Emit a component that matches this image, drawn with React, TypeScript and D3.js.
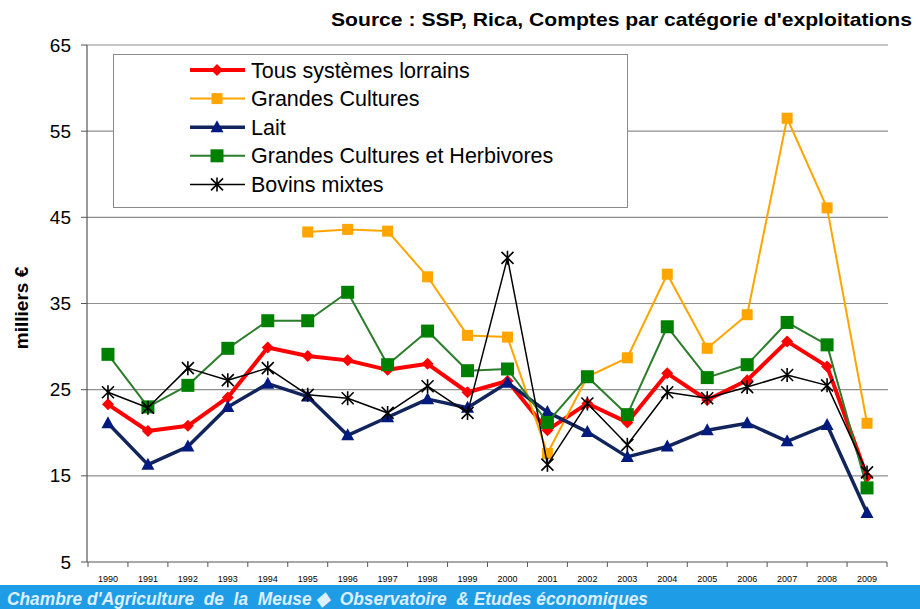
import * as d3 from "d3";
import React from "react";

const years = ["1990", "1991", "1992", "1993", "1994", "1995", "1996", "1997", "1998", "1999",
  "2000", "2001", "2002", "2003", "2004", "2005", "2006", "2007", "2008", "2009"];

const tousSystemes = [23.3, 20.2, 20.8, 24.1, 29.9, 28.9, 28.4, 27.3, 28.0, 24.7,
  26.0, 20.3, 23.4, 21.2, 26.9, 23.8, 26.1, 30.6, 27.7, 14.9];
const grandesCultures = [null, null, null, null, null, 43.3, 43.6, 43.4, 38.1, 31.3,
  31.1, 17.6, 26.5, 28.7, 38.4, 29.8, 33.7, 56.5, 46.1, 21.1];
const lait = [21.1, 16.3, 18.4, 23.0, 25.7, 24.2, 19.7, 21.8, 23.9, 22.9,
  25.8, 22.4, 20.1, 17.2, 18.4, 20.3, 21.1, 19.0, 20.9, 10.7];
const gcHerbivores = [29.1, 23.0, 25.5, 29.8, 33.0, 33.0, 36.3, 27.9, 31.8, 27.2,
  27.4, 21.2, 26.5, 22.1, 32.3, 26.4, 27.9, 32.8, 30.2, 13.6];
const bovinsMixtes = [24.7, 22.9, 27.5, 26.1, 27.5, 24.4, 24.0, 22.3, 25.4, 22.3,
  40.3, 16.3, 23.4, 18.6, 24.7, 24.0, 25.3, 26.7, 25.5, 15.4];

const yTicks = [5, 15, 25, 35, 45, 55, 65];

const series = [
  { name: "Tous systèmes lorrains", values: tousSystemes, line: "#ff0000", fill: "#ff0000", width: 4, marker: "diamond" },
  { name: "Grandes Cultures", values: grandesCultures, line: "#ffa500", fill: "#ffa500", width: 2, marker: "square" },
  { name: "Lait", values: lait, line: "#12245c", fill: "#001a80", width: 3.5, marker: "triangle" },
  { name: "Grandes Cultures et Herbivores", values: gcHerbivores, line: "#2b7d2b", fill: "#008000", width: 2, marker: "bigsquare" },
  { name: "Bovins mixtes", values: bovinsMixtes, line: "#000000", fill: "#000000", width: 1.5, marker: "star" },
];

const W = 920;
const H = 609;
const left = 88;
const right = 887;
const top = 45;
const bottom = 562;

const x = d3.scaleBand().domain(years).range([left, right]);
const y = d3.scaleLinear().domain([5, 65]).range([bottom, top]);
const cx = (yr: string) => (x(yr) as number) + x.bandwidth() / 2;

function Marker({ type, px, py, color }: { type: string; px: number; py: number; color: string }) {
  if (type === "diamond") {
    const r = 6;
    return <path d={`M${px},${py - r}L${px + r},${py}L${px},${py + r}L${px - r},${py}Z`} fill={color} />;
  }
  if (type === "square") {
    const s = 11;
    return <rect x={px - s / 2} y={py - s / 2} width={s} height={s} fill={color} />;
  }
  if (type === "bigsquare") {
    const s = 13;
    return <rect x={px - s / 2} y={py - s / 2} width={s} height={s} fill={color} />;
  }
  if (type === "triangle") {
    return <path d={`M${px},${py - 7}L${px + 6.5},${py + 5}L${px - 6.5},${py + 5}Z`} fill={color} />;
  }
  const r = 6;
  return (
    <path
      d={`M${px - r},${py - r}L${px + r},${py + r}M${px - r},${py + r}L${px + r},${py - r}M${px},${py - r - 1}L${px},${py + r + 1}`}
      stroke={color}
      strokeWidth={1.6}
      fill="none"
    />
  );
}

export default function App() {
  const line = d3
    .line<number | null>()
    .defined((d) => d != null)
    .x((_, i) => cx(years[i]))
    .y((d) => y(d as number));

  const legendY = (i: number) => 70 + i * 28.6;

  return (
    <svg
      width={W}
      height={H}
      style={{ position: "absolute", left: 0, top: 0, background: "#fff" }}
      fontFamily="'Liberation Sans', Arial, sans-serif"
    >
      <rect x={0} y={0} width={W} height={H} fill="#fff" />

      {/* source */}
      <text
        x={331}
        y={26}
        fontSize={19}
        fontWeight="bold"
        fill="#000"
        textLength={581}
        lengthAdjust="spacingAndGlyphs"
      >
        Source : SSP, Rica, Comptes par catégorie d'exploitations
      </text>

      {/* grid */}
      {yTicks.slice(1).map((t) => (
        <line key={t} x1={left - 1} x2={right + 1} y1={y(t)} y2={y(t)} stroke="#8f8f8f" strokeWidth={1.2} />
      ))}

      {/* y axis */}
      <line x1={left - 1} x2={left - 1} y1={top} y2={bottom} stroke="#555" strokeWidth={1.2} />
      {yTicks.map((t) => (
        <g key={t}>
          <line x1={left - 7} x2={left - 1} y1={y(t)} y2={y(t)} stroke="#555" />
          <text x={71} y={y(t) + 6.5} textAnchor="end" fontSize={19} fill="#000">
            {t}
          </text>
        </g>
      ))}
      <text
        transform={`translate(28, 308) rotate(-90)`}
        textAnchor="middle"
        fontSize={19}
        fontWeight="bold"
        fill="#000"
      >
        milliers €
      </text>

      {/* x axis */}
      <line x1={left - 1} x2={right} y1={bottom} y2={bottom} stroke="#555" strokeWidth={1.2} />
      {d3.range(years.length + 1).map((i) => {
        const xx = left + i * x.step();
        return <line key={i} x1={xx} x2={xx} y1={bottom} y2={bottom + 5} stroke="#555" />;
      })}
      {years.map((yr) => (
        <text key={yr} x={cx(yr)} y={582} textAnchor="middle" fontSize={9} fill="#000">
          {yr}
        </text>
      ))}

      {/* series */}
      {series.map((s) => (
        <g key={s.name}>
          <path d={line(s.values) || ""} fill="none" stroke={s.line} strokeWidth={s.width} strokeLinejoin="round" />
          {s.values.map((v, i) =>
            v == null ? null : <Marker key={i} type={s.marker} px={cx(years[i])} py={y(v)} color={s.fill} />
          )}
        </g>
      ))}

      {/* legend */}
      <rect x={113.5} y={54.5} width={514} height={153} fill="#fff" stroke="#8a8a8a" strokeWidth={1} />
      {series.map((s, i) => (
        <g key={s.name}>
          <line x1={190} x2={245} y1={legendY(i)} y2={legendY(i)} stroke={s.line} strokeWidth={s.width} />
          <Marker type={s.marker} px={217} py={legendY(i)} color={s.fill} />
          <text x={251} y={legendY(i) + 7.5} fontSize={21.5} fill="#000">
            {s.name}
          </text>
        </g>
      ))}

      {/* banner */}
      <rect x={0} y={585} width={W} height={24} fill="#1f9ce6" />
      <text
        x={7}
        y={605}
        fontSize={19}
        fontWeight="bold"
        fontStyle="italic"
        fontFamily="'Liberation Sans Narrow', 'Arial Narrow', 'Liberation Sans', sans-serif"
        fill="#dcefff"
        textLength={641}
        lengthAdjust="spacingAndGlyphs"
        style={{ whiteSpace: "pre" }}
      >
        {"Chambre d'Agriculture  de  la  Meuse ◆  Observatoire  & Etudes économiques"}
      </text>
    </svg>
  );
}
